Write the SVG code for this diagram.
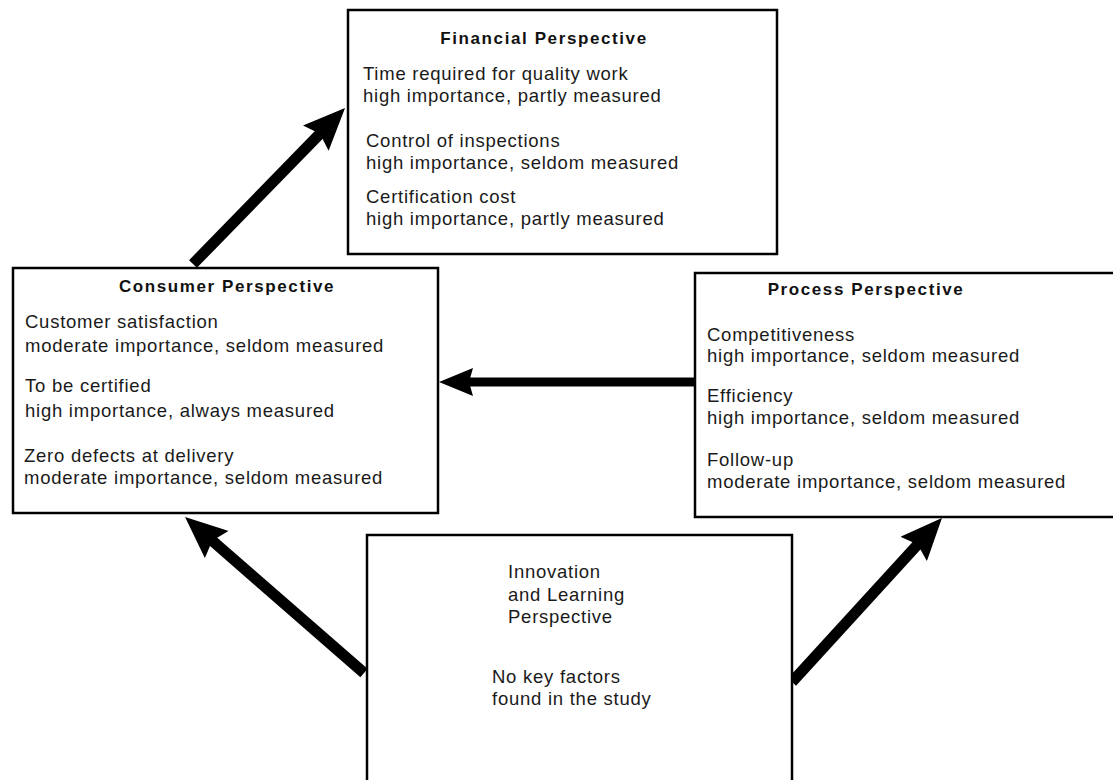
<svg xmlns="http://www.w3.org/2000/svg" width="1113" height="780" viewBox="0 0 1113 780">
  <style>
    .box { fill: #ffffff; stroke: #000000; stroke-width: 2.5; }
    .title { font-family: "Liberation Sans", Arial, sans-serif; font-size: 17px; font-weight: bold; letter-spacing: 1.6px; fill: #111111; }
    .body { font-family: "Liberation Sans", Arial, sans-serif; font-size: 18.5px; letter-spacing: 0.75px; fill: #1a1a1a; }
    .arrow { stroke: #000000; stroke-width: 11; fill: none; stroke-linecap: butt; }
    .arrow-thin { stroke: #000000; stroke-width: 9; fill: none; stroke-linecap: butt; }
  </style>
  <defs>
    <marker id="head" viewBox="0 0 42 36" markerWidth="42" markerHeight="36" refX="17" refY="18" orient="auto" markerUnits="userSpaceOnUse">
      <path d="M0,0 L42,18 L0,36 L6,18 Z" fill="#000000"/>
    </marker>
    <marker id="head-small" viewBox="0 0 34 28" markerWidth="34" markerHeight="28" refX="14" refY="14" orient="auto" markerUnits="userSpaceOnUse">
      <path d="M0,0 L34,14 L0,28 L4,14 Z" fill="#000000"/>
    </marker>
  </defs>

  <rect width="1113" height="780" fill="#ffffff"/>

  <!-- connectors between the four perspectives -->
  <g id="connectors">
    <line class="arrow" x1="193" y1="264" x2="327.6" y2="125.9" marker-end="url(#head)"/>
    <line class="arrow-thin" x1="695" y1="382" x2="459" y2="382" marker-end="url(#head-small)"/>
    <line class="arrow" x1="364" y1="673" x2="203.9" y2="533.4" marker-end="url(#head)"/>
    <line class="arrow" x1="792" y1="682" x2="925.1" y2="536.4" marker-end="url(#head)"/>
  </g>

  <g id="financial">
    <rect class="box" x="348" y="10" width="429" height="244"/>
    <text class="title" x="544" y="44" text-anchor="middle">Financial Perspective</text>
    <text class="body" x="363" y="80">Time required for quality work</text>
    <text class="body" x="363" y="102">high importance, partly measured</text>
    <text class="body" x="366" y="147">Control of inspections</text>
    <text class="body" x="366" y="169">high importance, seldom measured</text>
    <text class="body" x="366" y="203">Certification cost</text>
    <text class="body" x="366" y="225">high importance, partly measured</text>
  </g>

  <g id="consumer">
    <rect class="box" x="13" y="268" width="425" height="245"/>
    <text class="title" x="227" y="292" text-anchor="middle">Consumer Perspective</text>
    <text class="body" x="25" y="328">Customer satisfaction</text>
    <text class="body" x="25" y="352">moderate importance, seldom measured</text>
    <text class="body" x="25" y="392">To be certified</text>
    <text class="body" x="25" y="417">high importance, always measured</text>
    <text class="body" x="24" y="462">Zero defects at delivery</text>
    <text class="body" x="24" y="484">moderate importance, seldom measured</text>
  </g>

  <g id="process">
    <rect class="box" x="695" y="273" width="425" height="244"/>
    <text class="title" x="866" y="295" text-anchor="middle">Process Perspective</text>
    <text class="body" x="707" y="341">Competitiveness</text>
    <text class="body" x="707" y="362">high importance, seldom measured</text>
    <text class="body" x="707" y="402">Efficiency</text>
    <text class="body" x="707" y="424">high importance, seldom measured</text>
    <text class="body" x="707" y="466">Follow-up</text>
    <text class="body" x="707" y="488">moderate importance, seldom measured</text>
  </g>

  <g id="innovation">
    <rect class="box" x="367" y="535" width="425" height="255"/>
    <text class="body" x="508" y="578">Innovation</text>
    <text class="body" x="508" y="601">and Learning</text>
    <text class="body" x="508" y="623">Perspective</text>
    <text class="body" x="492" y="683">No key factors</text>
    <text class="body" x="492" y="705">found in the study</text>
  </g>
</svg>
